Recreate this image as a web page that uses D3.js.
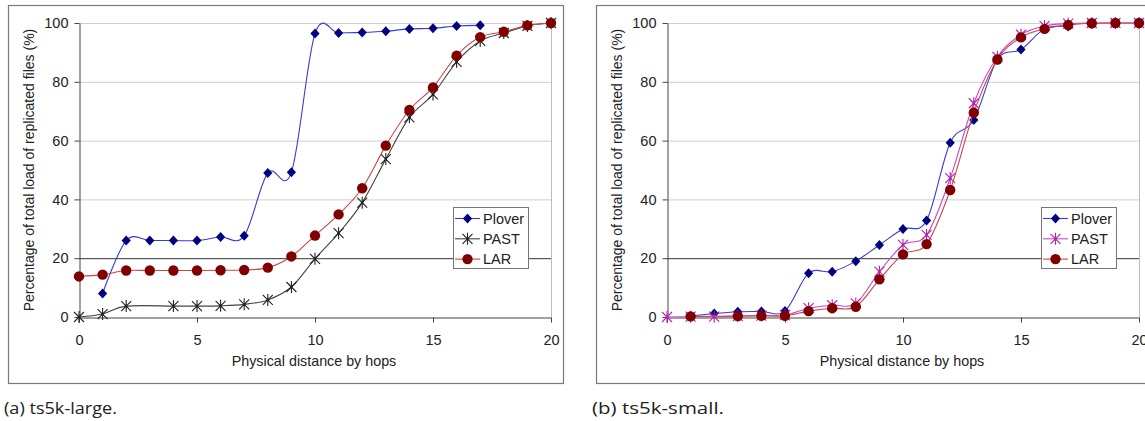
<!DOCTYPE html>
<html>
<head>
<meta charset="utf-8">
<script src="https://cdn.jsdelivr.net/npm/d3@7"></script>
<style>
  body { margin: 0; background: #fff; }
  svg { display: block; font-family: "Liberation Sans", Arial, sans-serif; }
</style>
</head>
<body>
<div id="chart"></div>
<script>
// hops on the x axis
const hops = [0, 1, 2, 3, 4, 5, 6, 7, 8, 9, 10, 11, 12, 13, 14, 15, 16, 17, 18, 19, 20];
const yTicks = [0, 20, 40, 60, 80, 100];
const xTicks = [0, 5, 10, 15, 20];
const seriesNames = ["Plover", "PAST", "LAR"];

// (a) ts5k-large
const largePlover = [null, 8, 26, 26, 26, 26, 27.2, 27.6, 49, 49.2, 96.4, 96.6, 96.8, 97.2, 98, 98.2, 99, 99.2, null, null, null];
const largePast = [0, 1, 3.7, null, 3.7, 3.7, 3.8, 4.3, 5.8, 10.2, 19.8, 28.5, 38.9, 53.7, 67.9, 75.7, 86.8, 93.9, 96.6, 99, 100];
const largeLar = [13.8, 14.4, 15.8, 15.8, 15.8, 15.8, 15.9, 16, 16.8, 20.6, 27.7, 34.9, 43.8, 58.3, 70.4, 78.1, 88.9, 95.2, 97, 99.2, 100];

// (b) ts5k-small
const smallPlover = [null, 0.3, 1.2, 1.8, 1.9, 2, 14.9, 15.4, 19, 24.5, 29.9, 32.8, 59.3, 67, 87.6, 91, 98, 98.8, null, null, null];
const smallPast = [0, 0.1, 0.1, 0.3, 0.5, 0.6, 3, 4, 4.6, 15.4, 24.5, 27.9, 47.2, 72.7, 88.5, 96, 99, 99.8, 100, 100, 100];
const smallLar = [null, 0.2, null, 0.3, 0.4, 0.4, 2, 3, 3.5, 12.8, 21.3, 24.8, 43.2, 69.5, 87.6, 95.1, 98, 99.3, 99.9, 100, 100];

const W = 1145, H = 421;
const svg = d3.select("#chart").append("svg").attr("width", W).attr("height", H);

// plot area inside each panel
const plotW = 472, plotH = 294;

const panels = [
  { ox: 0, caption: "(a) ts5k-large.", capLen: 113,
    data: [largePlover, largePast, largeLar],
    colors: [
      { line: "#3a3ad0", mark: "#000080", shape: "diamond" },
      { line: "#444444", mark: "#222222", shape: "star" },
      { line: "#c84848", mark: "#800000", shape: "circle" }
    ] },
  { ox: 588, caption: "(b) ts5k-small.", capLen: 132,
    data: [smallPlover, smallPast, smallLar],
    colors: [
      { line: "#3a3ad0", mark: "#000080", shape: "diamond" },
      { line: "#cc44cc", mark: "#b022b0", shape: "star" },
      { line: "#c84848", mark: "#800000", shape: "circle" }
    ] }
];

function drawMarker(g, shape, color, x, y) {
  if (shape === "diamond") {
    g.append("path")
      .attr("d", `M${x},${y - 5}L${x + 4.6},${y}L${x},${y + 5}L${x - 4.6},${y}Z`)
      .attr("fill", color);
  } else if (shape === "circle") {
    g.append("circle").attr("cx", x).attr("cy", y).attr("r", 5.2).attr("fill", color);
  } else {
    // excel style star: an X plus a vertical bar
    const r = 5;
    g.append("path")
      .attr("d", `M${x - r},${y - r}L${x + r},${y + r}M${x - r},${y + r}L${x + r},${y - r}M${x},${y - r - 1}L${x},${y + r + 1}`)
      .attr("stroke", color)
      .attr("stroke-width", 1.1)
      .attr("fill", "none");
    g.append("circle").attr("cx", x).attr("cy", y).attr("r", 1.3).attr("fill", color);
  }
}

panels.forEach((p) => {
  const left = 79 + p.ox, top = 23;

  // outer frame of the panel
  svg.append("rect")
    .attr("x", 8.5 + p.ox).attr("y", 5.5)
    .attr("width", 555).attr("height", 378)
    .attr("fill", "none").attr("stroke", "#7a7a7a").attr("stroke-width", 1.2);

  const g = svg.append("g").attr("transform", `translate(${left},${top})`);

  const x = d3.scaleLinear().domain([0, 20]).range([0, plotW]);
  const y = d3.scaleLinear().domain([0, 100]).range([plotH, 0]);

  // gridlines, the 20% line is drawn dark
  g.selectAll(".grid")
    .data(yTicks.filter((t) => t > 0))
    .enter()
    .append("line")
    .attr("x1", 0).attr("x2", plotW)
    .attr("y1", (d) => y(d) + 0.5).attr("y2", (d) => y(d) + 0.5)
    .attr("stroke", (d) => (d === 20 ? "#333" : "#cfcfcf"))
    .attr("stroke-width", 1);

  // right border of plot area
  g.append("line")
    .attr("x1", plotW + 0.5).attr("x2", plotW + 0.5)
    .attr("y1", 0).attr("y2", plotH)
    .attr("stroke", "#bdbdbd");

  // axes
  const xAxis = g.append("g")
    .attr("transform", `translate(0,${plotH + 0.5})`)
    .call(d3.axisBottom(x).tickValues(xTicks).tickSize(5).tickPadding(12).tickSizeOuter(0));
  const yAxis = g.append("g")
    .attr("transform", "translate(0.5,0)")
    .call(d3.axisLeft(y).tickValues(yTicks).tickSize(5).tickPadding(6).tickSizeOuter(0));
  [xAxis, yAxis].forEach((a) => {
    a.select(".domain").attr("stroke", "#444");
    a.selectAll(".tick line").attr("stroke", "#444");
    a.selectAll("text").style("font-size", "14.5px").style("font-family", "Liberation Sans, Arial, sans-serif").attr("fill", "#222");
  });

  // axis titles
  svg.append("text")
    .attr("x", left + plotW / 2 - 1).attr("y", 366)
    .attr("text-anchor", "middle")
    .style("font-size", "14.3px").attr("fill", "#222")
    .text("Physical distance by hops");

  svg.append("text")
    .attr("transform", `translate(${34 + p.ox},170) rotate(-90)`)
    .attr("text-anchor", "middle")
    .style("font-size", "14px").attr("fill", "#222")
    .text("Percentage of total load of replicated files (%)");

  // series
  p.data.forEach((vals, i) => {
    const c = p.colors[i];
    const pts = hops.map((h, k) => ({ h: h, v: vals[k] })).filter((d) => d.v !== null);
    const line = d3.line()
      .curve(d3.curveCatmullRom.alpha(0))
      .x((d) => x(d.h))
      .y((d) => y(d.v));
    const sg = g.append("g");
    sg.append("path")
      .datum(pts)
      .attr("d", line)
      .attr("fill", "none")
      .attr("stroke", c.line)
      .attr("stroke-width", 1.1);
    pts.forEach((d) => drawMarker(sg, c.shape, c.mark, x(d.h), y(d.v)));
  });

  // legend
  const lg = svg.append("g").attr("transform", `translate(${453 + p.ox},207)`);
  lg.append("rect")
    .attr("x", 0.5).attr("y", 0.5).attr("width", 75).attr("height", 61)
    .attr("fill", "#fff").attr("stroke", "#777").attr("stroke-width", 1);
  seriesNames.forEach((name, i) => {
    const c = p.colors[i];
    const cy = 11.5 + i * 20.3;
    lg.append("line")
      .attr("x1", 2).attr("x2", 27).attr("y1", cy).attr("y2", cy)
      .attr("stroke", c.line).attr("stroke-width", 1.1);
    drawMarker(lg, c.shape, c.mark, 14.5, cy);
    lg.append("text")
      .attr("x", 30).attr("y", cy + 5)
      .style("font-size", "14.5px").attr("fill", "#222")
      .text(name);
  });

  // caption
  svg.append("text")
    .attr("x", 4 + p.ox).attr("y", 414)
    .attr("textLength", p.capLen)
    .attr("lengthAdjust", "spacingAndGlyphs")
    .style("font-family", "Open Sans, Noto Sans, sans-serif")
    .style("font-size", "15.5px").attr("fill", "#222")
    .text(p.caption);
});
</script>
</body>
</html>
